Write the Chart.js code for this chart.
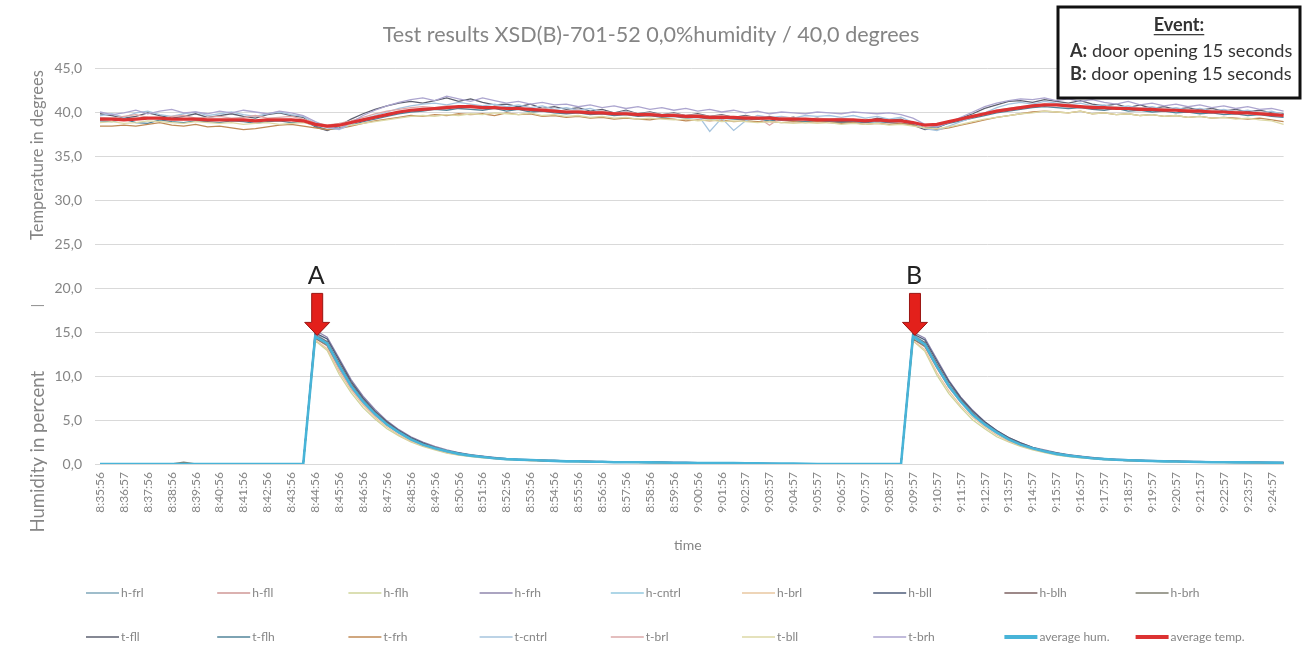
<!DOCTYPE html>
<html>
<head>
<meta charset="utf-8">
<script src="https://cdn.jsdelivr.net/npm/chart.js@4.4.1/dist/chart.umd.min.js"></script>
<style>
html,body{margin:0;padding:0;background:#fff;}
#wrap{width:1306px;height:665px;position:relative;}
canvas{display:block;}
</style>
</head>
<body>
<div id="wrap"><canvas id="c" width="1306" height="665"></canvas></div>
<script>
// ---------- DATA ----------
const chartTitle = 'Test results XSD(B)-701-52 0,0%humidity / 40,0 degrees';
const tickLabels = ['8:35:56','8:36:57','8:37:56','8:38:56','8:39:56','8:40:56','8:41:56','8:42:56','8:43:56','8:44:56',
'8:45:56','8:46:56','8:47:56','8:48:56','8:49:56','8:50:56','8:51:56','8:52:56','8:53:56','8:54:56',
'8:55:56','8:56:56','8:57:56','8:58:56','8:59:56','9:00:56','9:01:56','9:02:57','9:03:57','9:04:57',
'9:05:57','9:06:57','9:07:57','9:08:57','9:09:57','9:10:57','9:11:57','9:12:57','9:13:57','9:14:57',
'9:15:57','9:16:57','9:17:57','9:18:57','9:19:57','9:20:57','9:21:57','9:22:57','9:23:57','9:24:57'];
const yTicks = [0,5,10,15,20,25,30,35,40,45];

const hFrl = [0,0,0,0,0,0,0,0,0,0, 0,0,0,0,0,0,0,0,14.8,13.9,
11.3,9.0,7.2,5.8,4.6,3.6,2.8,2.3,1.8,1.4, 1.15,0.95,0.8,0.65,0.55,0.5,0.45,0.4,0.35,0.3,
0.3,0.25,0.25,0.2,0.2,0.2,0.2,0.15,0.15,0.15, 0.15,0.1,0.1,0.1,0.1,0.05,0.05,0.05,0.05,0.05,
0,0,0,0,0,0,0,0,14.7,13.8, 11.2,9.0,7.2,5.7,4.5,3.6,2.8,2.2,1.8,1.4,
1.15,0.95,0.8,0.65,0.55,0.45,0.4,0.35,0.3,0.3, 0.25,0.25,0.2,0.2,0.2,0.2,0.15,0.15,0.15,0.15];
const hFll = [0,0,0,0,0,0,0,0,0,0, 0,0,0,0,0,0,0,0,14.3,13.4,
10.8,8.6,6.9,5.5,4.4,3.5,2.7,2.2,1.7,1.4, 1.1,0.9,0.75,0.6,0.55,0.5,0.4,0.4,0.35,0.3,
0.3,0.25,0.25,0.2,0.25,0.2,0.2,0.2,0.15,0.15, 0.1,0.15,0.1,0.1,0.05,0.1,0.05,0.05,0.05,0,
0,0,0,0,0,0,0,0,14.2,13.3, 10.9,8.7,7.0,5.6,4.4,3.5,2.7,2.1,1.7,1.4,
1.1,0.9,0.75,0.6,0.5,0.45,0.4,0.35,0.3,0.3, 0.25,0.25,0.2,0.2,0.2,0.15,0.2,0.15,0.15,0.1];
const hFlh = [0,0,0,0,0,0,0,0,0,0, 0,0,0,0,0,0,0,0,14.0,12.9,
10.2,8.1,6.4,5.1,4.0,3.2,2.5,2.0,1.6,1.25, 1.0,0.85,0.7,0.6,0.5,0.45,0.4,0.35,0.3,0.3,
0.25,0.25,0.2,0.2,0.2,0.15,0.15,0.15,0.1,0.1, 0.1,0.1,0.1,0.05,0.05,0.05,0.05,0,0,0,
0,0,0,0,0,0,0,0,14.0,12.8, 10.1,8.0,6.4,5.0,4.0,3.1,2.5,2.0,1.6,1.3,
1.0,0.85,0.7,0.6,0.5,0.45,0.4,0.35,0.3,0.25, 0.25,0.2,0.2,0.2,0.15,0.15,0.15,0.15,0.1,0.1];
const hFrh = [0,0,0,0,0,0,0,0,0,0, 0,0,0,0,0,0,0,0,15.2,14.4,
12.0,9.6,7.7,6.2,4.9,3.9,3.1,2.5,2.0,1.6, 1.3,1.05,0.9,0.75,0.6,0.55,0.5,0.45,0.4,0.35,
0.35,0.3,0.3,0.25,0.25,0.25,0.2,0.2,0.2,0.2, 0.15,0.15,0.15,0.1,0.1,0.1,0.1,0.05,0.05,0.05,
0,0,0,0,0,0,0,0,15.0,14.3, 11.9,9.5,7.6,6.1,4.8,3.8,3.0,2.4,1.9,1.6,
1.3,1.05,0.9,0.75,0.6,0.55,0.5,0.45,0.4,0.35, 0.35,0.3,0.3,0.25,0.25,0.25,0.2,0.2,0.2,0.2];
const hCntrl = [0,0,0,0,0,0,0,0,0,0, 0,0,0,0,0,0,0,0,14.5,13.6,
11.0,8.8,7.0,5.6,4.5,3.5,2.8,2.2,1.8,1.4, 1.1,0.9,0.8,0.65,0.55,0.45,0.45,0.4,0.35,0.3,
0.3,0.25,0.2,0.25,0.2,0.2,0.15,0.2,0.15,0.15, 0.1,0.1,0.15,0.1,0.05,0.1,0.05,0.05,0,0,
0,0,0,0,0,0,0,0,14.4,13.5, 11.0,8.8,7.0,5.6,4.4,3.5,2.8,2.2,1.8,1.4,
1.1,0.95,0.8,0.65,0.55,0.45,0.4,0.35,0.35,0.3, 0.25,0.25,0.2,0.2,0.2,0.2,0.15,0.15,0.15,0.15];
const hBrl = [0,0,0,0,0,0,0,0,0,0, 0,0,0,0,0,0,0,0,14.1,13.1,
10.5,8.4,6.7,5.3,4.2,3.3,2.6,2.1,1.7,1.3, 1.05,0.9,0.75,0.6,0.5,0.45,0.4,0.35,0.3,0.3,
0.25,0.25,0.2,0.2,0.2,0.2,0.15,0.15,0.15,0.1, 0.1,0.1,0.1,0.1,0.05,0.05,0.05,0.05,0,0,
0,0,0,0,0,0,0,0,14.0,13.0, 10.4,8.3,6.6,5.3,4.2,3.3,2.6,2.1,1.7,1.35,
1.1,0.9,0.75,0.6,0.5,0.45,0.4,0.35,0.3,0.3, 0.25,0.25,0.2,0.2,0.2,0.15,0.15,0.15,0.15,0.1];
const hBll = [0,0,0,0,0,0,0,0,0,0, 0,0,0,0,0,0,0,0,14.9,14.2,
11.8,9.4,7.5,6.0,4.8,3.8,3.0,2.4,1.9,1.5, 1.25,1.0,0.85,0.7,0.6,0.5,0.45,0.4,0.4,0.35,
0.3,0.3,0.25,0.25,0.2,0.2,0.2,0.2,0.15,0.15, 0.15,0.1,0.1,0.1,0.1,0.05,0.05,0.05,0.05,0,
0,0,0,0,0,0,0,0,14.8,14.1, 11.7,9.4,7.5,6.0,4.8,3.8,3.0,2.4,1.9,1.5,
1.25,1.0,0.85,0.7,0.6,0.5,0.45,0.4,0.35,0.35, 0.3,0.3,0.25,0.25,0.2,0.2,0.2,0.2,0.15,0.15];
const hBlh = [0,0,0,0,0,0,0,0,0,0, 0,0,0,0,0,0,0,0,14.6,13.9,
11.5,9.2,7.3,5.9,4.7,3.7,2.9,2.3,1.9,1.5, 1.2,1.0,0.8,0.7,0.55,0.5,0.45,0.4,0.35,0.35,
0.3,0.3,0.25,0.2,0.2,0.2,0.2,0.15,0.15,0.15, 0.1,0.1,0.1,0.1,0.1,0.05,0.05,0.05,0.05,0.05,
0,0,0,0,0,0,0,0,14.5,13.8, 11.4,9.1,7.3,5.8,4.6,3.7,2.9,2.3,1.8,1.5,
1.2,1.0,0.8,0.7,0.55,0.5,0.45,0.4,0.35,0.3, 0.3,0.25,0.25,0.2,0.2,0.2,0.2,0.15,0.15,0.15];
const hBrh = [0,0,0,0,0,0,0,0.2,0,0, 0,0,0,0,0,0,0,0,14.3,13.5,
11.1,8.9,7.1,5.7,4.5,3.6,2.8,2.2,1.8,1.4, 1.15,0.95,0.8,0.65,0.55,0.5,0.45,0.4,0.35,0.3,
0.3,0.25,0.25,0.2,0.2,0.2,0.15,0.15,0.15,0.15, 0.1,0.1,0.15,0.1,0.05,0.05,0.05,0.05,0.05,0,
0,0,0,0,0,0,0,0,14.2,13.4, 11.0,8.8,7.1,5.7,4.5,3.6,2.8,2.2,1.8,1.4,
1.15,0.95,0.8,0.65,0.55,0.45,0.4,0.35,0.3,0.3, 0.3,0.25,0.25,0.2,0.2,0.2,0.15,0.15,0.15,0.15];

const tFll = [39.8,39.6,39.3,39.5,39.9,39.6,39.3,39.5,39.8,39.4, 39.6,39.8,39.5,39.3,39.7,39.9,39.6,39.4,38.3,37.9,
38.4,39.2,39.8,40.3,40.7,41.0,41.2,41.0,41.3,41.6, 41.2,41.5,41.1,40.8,40.9,40.6,40.9,40.4,40.6,40.3,
40.5,40.1,40.3,39.9,40.2,39.8,40.0,39.7,39.9,39.6, 39.8,39.5,39.7,39.4,39.6,39.3,39.5,39.2,39.4,39.1,
39.3,39.0,38.9,38.9,38.9,39.3,39.1,39.2,38.5,38.0, 38.2,38.8,39.3,39.8,40.4,40.8,41.2,41.3,41.1,41.4,
41.2,41.0,41.3,40.9,40.7,40.9,40.5,40.8,40.4,40.6, 40.3,40.5,40.2,40.4,40.1,40.3,40.0,40.2,39.9,39.8];
const tFlh = [39.0,38.9,39.2,38.8,38.7,39.1,38.9,38.8,39.0,38.9, 38.8,39.0,38.9,38.7,38.9,39.0,38.8,38.9,38.4,38.0,
38.2,38.5,38.9,39.2,39.5,39.8,40.0,40.1,40.3,40.2, 40.4,40.3,40.2,40.4,40.1,40.3,40.0,40.1,39.9,39.8,
39.9,39.7,39.8,39.6,39.7,39.5,39.6,39.4,39.5,39.3, 39.4,39.2,39.3,39.2,39.1,39.2,39.0,39.1,39.0,38.9,
39.0,38.9,38.8,38.9,38.8,38.9,38.8,38.7,38.6,38.2, 38.3,38.7,39.0,39.3,39.6,39.9,40.1,40.3,40.5,40.6,
40.5,40.4,40.5,40.3,40.2,40.4,40.1,40.2,40.0,40.1, 39.9,40.0,39.8,39.9,39.7,39.8,39.6,39.7,39.5,39.4];
const tFrh = [38.4,38.4,38.5,38.4,38.6,38.8,38.5,38.4,38.6,38.3, 38.4,38.2,38.0,38.1,38.3,38.5,38.6,38.4,38.2,38.0,
38.1,38.4,38.7,39.0,39.2,39.4,39.6,39.5,39.7,39.6, 39.8,39.7,39.8,39.6,39.9,39.7,39.8,39.5,39.6,39.4,
39.5,39.3,39.4,39.2,39.3,39.2,39.1,39.3,39.2,39.0, 39.1,39.0,39.1,38.9,39.0,38.9,38.9,38.8,38.9,38.8,
38.9,38.8,38.7,38.8,38.6,38.7,38.6,38.7,38.5,38.2, 38.0,38.2,38.5,38.8,39.1,39.4,39.6,39.8,40.0,40.1,
40.0,39.9,40.1,39.8,39.9,39.7,39.8,39.6,39.7,39.5, 39.6,39.4,39.5,39.3,39.4,39.3,39.2,39.3,39.1,38.9];
const tCntrl = [39.6,39.8,39.4,39.9,40.1,39.7,39.5,39.8,40.0,39.6, 39.8,40.0,39.7,39.5,39.8,40.0,39.7,39.5,38.7,38.2,
38.0,38.6,39.2,39.6,40.0,40.4,40.7,40.9,41.0,40.8, 41.1,40.9,40.7,40.9,40.6,40.8,40.5,40.7,40.3,40.5,
40.2,40.4,40.0,39.8,40.1,39.7,39.9,39.6,39.8,39.5, 39.7,37.8,39.3,37.9,39.0,39.6,39.4,39.5,39.3,39.6,
39.5,39.6,39.4,39.6,39.3,39.5,39.2,39.4,38.8,38.1, 37.9,38.4,38.9,39.4,39.9,40.5,40.9,41.1,40.9,41.2,
41.0,40.8,41.0,40.7,40.8,40.5,40.7,40.4,40.6,40.3, 40.5,40.2,40.4,40.1,40.3,40.0,40.2,39.9,40.1,39.7];
const tBrl = [39.4,39.3,39.5,39.7,39.4,39.2,39.5,39.6,39.3,39.4, 39.5,39.3,39.4,39.6,39.3,39.4,39.5,39.2,38.8,38.5,
38.7,39.0,39.4,39.8,40.1,40.3,40.5,40.6,40.5,40.7, 40.6,40.8,40.5,40.6,40.4,40.5,40.3,40.4,40.2,40.1,
40.2,40.0,40.1,39.9,40.0,39.8,39.9,39.7,39.8,39.6, 39.7,39.5,39.6,39.4,39.5,39.4,38.5,39.4,39.3,39.2,
39.3,39.2,39.3,39.1,39.2,39.0,39.1,39.0,38.8,38.6, 38.6,38.9,39.2,39.6,39.9,40.2,40.4,40.6,40.7,40.9,
40.8,40.9,40.6,40.7,40.5,40.6,40.4,40.5,40.3,40.4, 40.2,40.3,40.1,40.2,40.0,40.1,39.9,40.0,39.8,39.7];
const tBll = [38.8,38.9,38.7,38.8,39.0,38.9,38.8,38.7,38.9,38.8, 38.7,38.8,38.6,38.7,38.8,38.6,38.7,38.8,38.5,38.3,
38.4,38.5,38.7,38.9,39.1,39.3,39.5,39.6,39.5,39.7, 39.6,39.8,39.7,39.9,39.8,39.7,39.9,39.6,39.7,39.5,
39.6,39.4,39.5,39.3,39.4,39.2,39.3,39.2,39.1,39.2, 39.0,39.1,38.9,39.0,38.9,38.8,38.9,38.8,38.7,38.8,
38.7,38.8,38.6,38.7,38.6,38.7,38.5,38.6,38.4,38.2, 38.1,38.3,38.6,38.9,39.2,39.4,39.6,39.8,39.9,40.1,
40.0,39.9,40.1,39.8,39.9,39.7,39.8,39.6,39.7,39.5, 39.6,39.4,39.5,39.3,39.4,39.2,39.3,39.1,39.0,38.6];
const tBrh = [40.0,39.7,39.9,40.2,39.8,40.1,40.3,39.9,40.0,39.8, 40.1,39.9,40.2,40.0,39.8,40.1,39.9,39.6,38.9,38.3,
38.1,38.8,39.6,40.2,40.7,41.1,41.4,41.6,41.3,41.8, 41.5,41.2,41.6,41.3,41.0,41.2,40.9,41.1,40.8,40.9,
40.6,40.8,40.5,40.7,40.4,40.6,40.3,40.5,40.2,40.4, 40.1,40.3,40.0,40.2,39.9,40.1,39.8,40.0,39.9,39.8,
40.0,39.9,39.8,40.0,39.9,39.8,39.9,39.7,39.3,38.6, 38.3,38.8,39.4,40.0,40.6,41.0,41.3,41.5,41.4,41.6,
41.3,41.5,41.2,41.4,41.1,40.9,41.2,40.8,41.0,40.7, 40.9,40.6,40.8,40.5,40.7,40.4,40.6,40.3,40.4,40.1];

const avgHum = [0,0,0,0,0,0,0,0,0,0, 0,0,0,0,0,0,0,0,14.5,13.7,
11.2,8.9,7.1,5.7,4.5,3.6,2.8,2.2,1.8,1.45, 1.15,0.95,0.8,0.65,0.55,0.5,0.45,0.4,0.35,0.3,
0.3,0.25,0.25,0.2,0.2,0.2,0.18,0.17,0.15,0.15, 0.12,0.12,0.12,0.1,0.08,0.07,0.06,0.05,0.04,0.03,
0,0,0,0,0,0,0,0,14.5,13.6, 11.1,8.9,7.1,5.6,4.5,3.6,2.8,2.2,1.8,1.45,
1.15,0.95,0.8,0.65,0.55,0.48,0.42,0.38,0.34,0.3, 0.28,0.25,0.23,0.2,0.2,0.19,0.18,0.17,0.16,0.15];
const avgTemp = [39.2,39.2,39.1,39.2,39.3,39.3,39.2,39.2,39.2,39.1, 39.1,39.1,39.1,39.0,39.1,39.1,39.1,39.0,38.6,38.4,
38.5,38.8,39.1,39.4,39.7,40.0,40.2,40.3,40.4,40.5, 40.6,40.6,40.5,40.5,40.4,40.4,40.3,40.2,40.1,40.0,
40.0,39.9,39.9,39.8,39.8,39.7,39.7,39.6,39.6,39.5, 39.5,39.4,39.4,39.4,39.3,39.3,39.3,39.2,39.2,39.2,
39.1,39.1,39.1,39.1,39.0,39.1,39.0,39.0,38.8,38.5, 38.6,38.9,39.2,39.5,39.8,40.1,40.3,40.5,40.7,40.8,
40.8,40.7,40.6,40.5,40.5,40.4,40.4,40.3,40.3,40.2, 40.2,40.1,40.1,40.0,40.0,39.9,39.9,39.8,39.7,39.6];

const eventIndex = [18, 68];
const eventNames = ['A', 'B'];
const eventBoxLines = [['Event:', ''], ['A:', ' door opening 15 seconds'], ['B:', ' door opening 15 seconds']];

// ---------- BUILD ----------
const categories = avgHum.map((_, i) => (i % 2 === 0 ? tickLabels[i / 2] : ''));

const seriesDefs = [
  ['h-frl', hFrl, '#7fa7ba', 1.3],
  ['h-fll', hFll, '#cf9796', 1.3],
  ['h-flh', hFlh, '#cfd49a', 1.3],
  ['h-frh', hFrh, '#8f86ad', 1.3],
  ['h-cntrl', hCntrl, '#93c9df', 1.3],
  ['h-brl', hBrl, '#e9c7a0', 1.3],
  ['h-bll', hBll, '#4e5d7a', 1.3],
  ['h-blh', hBlh, '#7d6262', 1.3],
  ['h-brh', hBrh, '#7f7f70', 1.3],
  ['t-fll', tFll, '#5d6070', 1.3],
  ['t-flh', tFlh, '#52849a', 1.3],
  ['t-frh', tFrh, '#c08a55', 1.3],
  ['t-cntrl', tCntrl, '#a6c4de', 1.3],
  ['t-brl', tBrl, '#dba9a8', 1.3],
  ['t-bll', tBll, '#ddd9a6', 1.3],
  ['t-brh', tBrh, '#aca5cf', 1.3],
  ['average hum.', avgHum, '#48b4d8', 2.6],
  ['average temp.', avgTemp, '#dc3232', 3.2]
];
const n = seriesDefs.length;
const datasets = seriesDefs.map((s, i) => ({
  label: s[0], data: s[1], borderColor: s[2], backgroundColor: s[2],
  borderWidth: s[3], pointRadius: 0, tension: 0, fill: false, order: n - i
}));

const FONT = 'Lato, "Open Sans", sans-serif';
const GREY = '#858585';

function fitSize(ctx, text, width, weight) {
  ctx.font = weight + ' 100px ' + FONT;
  return 100 * width / ctx.measureText(text).width;
}

const decor = {
  id: 'decor',
  beforeDraw(chart) {
    const ctx = chart.ctx;
    ctx.save();
    ctx.fillStyle = '#fff';
    ctx.fillRect(0, 0, chart.width, chart.height);
    ctx.restore();
  },
  afterDraw(chart) {
    const ctx = chart.ctx, xs = chart.scales.x, ys = chart.scales.y, ca = chart.chartArea;
    ctx.save();
    // Title
    let fs = fitSize(ctx, chartTitle, 537, '400');
    ctx.font = '400 ' + fs + 'px ' + FONT;
    ctx.fillStyle = GREY; ctx.textAlign = 'center'; ctx.textBaseline = 'middle';
    ctx.fillText(chartTitle, 651, 35);

    // Y axis title pieces (rotated)
    const yPieces = [['Temperature in degrees', 35.1, 170], ['|', 18, 0], ['Humidity in percent', 1.4, 162]];
    ctx.fillStyle = GREY;
    yPieces.forEach(p => {
      ctx.save();
      ctx.translate(38, ys.getPixelForValue(p[1]));
      ctx.rotate(-Math.PI / 2);
      const size = p[2] ? fitSize(ctx, p[0], p[2], '400') : 13;
      ctx.font = '400 ' + size + 'px ' + FONT;
      ctx.textAlign = 'center'; ctx.textBaseline = 'middle';
      ctx.fillText(p[0], 0, 0);
      ctx.restore();
    });

    // X axis title
    ctx.font = '400 14px ' + FONT;
    ctx.fillStyle = GREY; ctx.textAlign = 'center'; ctx.textBaseline = 'middle';
    ctx.fillText('time', (ca.left + ca.right) / 2 - 4, 545);

    // Legend
    const colStep = 131.2, x0 = 86, rowsY = [593, 637];
    ctx.font = '400 12px ' + FONT;
    ctx.textAlign = 'left'; ctx.textBaseline = 'middle';
    chart.data.datasets.forEach((d, i) => {
      const col = i % 9, row = Math.floor(i / 9);
      const x = x0 + col * colStep, y = rowsY[row];
      ctx.strokeStyle = d.borderColor;
      ctx.lineWidth = d.borderWidth > 2 ? 4 : 1.6;
      ctx.beginPath(); ctx.moveTo(x, y); ctx.lineTo(x + 33, y); ctx.stroke();
      ctx.fillStyle = GREY;
      ctx.fillText(d.label, x + 35, y);
    });

    // Event annotations
    eventIndex.forEach((ix, k) => {
      const px = xs.getPixelForValue(ix) + 2;
      const tip = ys.getPixelForValue(avgHum[ix]) - 1;
      ctx.beginPath();
      ctx.moveTo(px - 5.5, tip - 42);
      ctx.lineTo(px + 5.5, tip - 42);
      ctx.lineTo(px + 5.5, tip - 13);
      ctx.lineTo(px + 12.5, tip - 13);
      ctx.lineTo(px, tip);
      ctx.lineTo(px - 12.5, tip - 13);
      ctx.lineTo(px - 5.5, tip - 13);
      ctx.closePath();
      ctx.fillStyle = '#e3201b'; ctx.fill();
      ctx.strokeStyle = '#9b1512'; ctx.lineWidth = 1; ctx.stroke();
      ctx.font = '400 25px ' + FONT;
      ctx.fillStyle = '#222'; ctx.textAlign = 'center'; ctx.textBaseline = 'middle';
      ctx.fillText(eventNames[k], px - 1, tip - 59);
    });

    // Event box
    ctx.fillStyle = '#fff';
    ctx.fillRect(1058, 7, 242, 91);
    ctx.strokeStyle = '#111'; ctx.lineWidth = 3;
    ctx.strokeRect(1058, 7, 242, 91);
    const lineSize = fitSize(ctx, 'A: door opening 15 seconds', 222, '400');
    const ys2 = [25, 51, 74];
    eventBoxLines.forEach((ln, i) => {
      ctx.textBaseline = 'middle';
      ctx.fillStyle = '#333';
      if (i === 0) {
        ctx.font = '700 ' + lineSize + 'px ' + FONT;
        ctx.textAlign = 'center';
        ctx.fillText(ln[0], 1179, ys2[i]);
        const w = ctx.measureText(ln[0]).width;
        ctx.fillRect(1179 - w / 2, ys2[i] + lineSize * 0.5, w, 1.2);
      } else {
        ctx.textAlign = 'left';
        ctx.font = '700 ' + lineSize + 'px ' + FONT;
        const w = ctx.measureText(ln[0]).width;
        ctx.fillText(ln[0], 1070, ys2[i]);
        ctx.font = '400 ' + lineSize + 'px ' + FONT;
        ctx.fillText(ln[1], 1070 + w, ys2[i]);
      }
    });
    ctx.restore();
  }
};

new Chart(document.getElementById('c'), {
  type: 'line',
  data: { labels: categories, datasets },
  options: {
    responsive: false,
    animation: false,
    devicePixelRatio: 1,
    layout: { padding: { left: 0, right: 21, top: 68, bottom: 100 } },
    plugins: { legend: { display: false }, title: { display: false }, tooltip: { enabled: false } },
    scales: {
      x: {
        type: 'category',
        offset: false,
        grid: { display: false, drawTicks: false },
        border: { display: true, color: '#d9d9d9' },
        ticks: {
          autoSkip: false, maxRotation: 90, minRotation: 90, padding: 8,
          color: GREY, font: { family: FONT, size: 12 },
          callback: (v, i) => (i % 2 === 0 ? tickLabels[i / 2] : '')
        },
        afterFit: s => { s.height = 101; }
      },
      y: {
        min: 0, max: 45,
        afterBuildTicks: s => { s.ticks = yTicks.map(v => ({ value: v })); },
        grid: { color: '#d9d9d9', lineWidth: 1, drawTicks: true, tickLength: 5, tickColor: '#d9d9d9' },
        border: { display: false },
        ticks: {
          padding: 13, color: GREY, font: { family: FONT, size: 14 },
          callback: v => v.toFixed(1).replace('.', ',')
        },
        afterFit: s => { s.width = 100; }
      }
    }
  },
  plugins: [decor]
});
</script>
</body>
</html>
